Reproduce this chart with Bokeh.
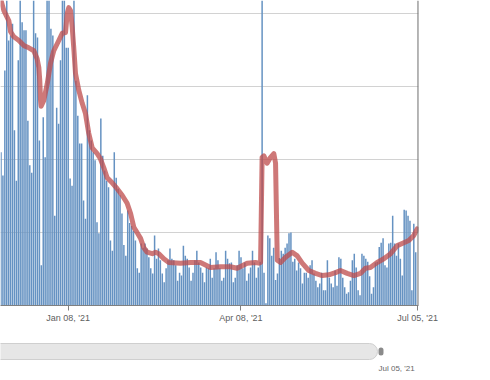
from bokeh.plotting import figure
from bokeh.models import FixedTicker, Grid, Span, Range1d
from bokeh.layouts import column
from bokeh.embed import file_html
from bokeh.resources import INLINE
from bokeh.core.properties import value

# daily bar values (one per day, first visible day = index 0)
bar_values = [
    21.0, 17.8, 32.2, 47, 36.3, 37.0, 38.6, 24.0, 17.1, 33.6,
    46, 38.8, 37.7, 37.7, 25.3, 19.2, 18.2, 44, 37.3, 36.7,
    22.6, 5.5, 25.8, 20.3, 48, 45, 37.9, 37.0, 12.3, 27.1,
    24.9, 33.6, 50, 46, 35.3, 35.3, 17.4, 16.4, 44, 30.8,
    26.0, 22.2, 22.2, 14.4,
    11.9, 28.8, 24.0, 22.6, 21.0, 19.9, 11.4, 9.9, 25.6, 20.5,
    18.5, 17.1, 16.2, 8.9, 7.5, 21.0, 17.5, 16.0, 15.1, 12.6,
    8.3, 6.8, 13.0, 11.3, 10.9, 10.2, 8.9, 5.1, 4.5, 8.5,
    7.9, 8.5, 7.8, 6.6, 5.1, 4.4, 9.6, 6.4, 7.8, 6.2,
    4.4, 3.2, 5.1, 6.2, 7.8, 6.4, 6.2, 5.5, 3.4, 4.5,
    4.1, 8.2, 6.8, 6.4, 5.2, 3.4, 4.5, 6.2, 7.5, 5.9,
    5.2, 4.5, 3.2, 5.2, 5.1, 6.4, 3.8, 5.1, 7.3, 6.2,
    5.1, 3.4, 3.8, 7.5, 6.4, 5.8, 5.9, 3.2, 3.8, 5.5,
    7.5, 6.6, 5.1, 5.9, 3.4, 4.4, 5.2, 7.5, 5.9, 3.8,
    5.2, 6.0, 106, 4.5, 0.3, 9.6, 9.2, 6.8, 7.9, 3.5,
    4.4, 6.5, 7.5, 7.1, 7.9, 8.5, 9.9, 10.0, 6.0, 6.4,
    4.8, 5.9, 5.1, 3.0, 4.5, 4.5, 3.8, 5.5, 6.2, 4.4,
    3.4, 2.5, 3.0,
    4.5, 2.1, 2.1, 6.2, 3.8, 3.0, 2.5, 4.8, 2.7, 6.6,
    6.4, 3.8, 2.5, 1.6, 1.8, 3.4, 6.2, 7.1, 5.2, 2.1,
    1.4, 7.1, 6.8, 6.4, 6.0, 4.0, 1.6, 2.5, 5.9, 6.0,
    8.0, 8.6, 9.2, 5.5, 5.2, 8.5, 8.6, 12.3, 8.5, 6.8,
    8.5, 6.4, 4.1, 13.1, 13.0, 12.3, 11.6, 2.1, 11.2, 7.3,
]
bar_days = list(range(len(bar_values)))

# moving-average line
line_days = [0, 1.5, 4.1, 5.0, 6.7, 9.3, 11.9, 14.5, 17.1, 18.8, 19.7, 20.2, 20.6, 20.9,
             22.3, 24.1, 25.8, 27.5, 30.1, 31.9, 33.6, 34.5, 35.3, 36.2, 37.1, 37.9, 38.8,
             40.5, 42.3, 44.0, 45.7, 47.5, 50.1, 51.8, 53.5, 55.3, 57.9, 60.5, 63.1, 65.7,
             67.5, 69.2, 71.1, 72.7, 74.4, 76.1, 78.8, 80.5, 82.2, 84.8, 87.4, 93.5, 98.7,
             103.9, 109.1, 114.3, 119.5, 123.0, 128.2, 132.5, 134.3, 135.2, 136.0, 136.9,
             138.6, 140.4, 142.1, 143.0, 143.9, 145.6, 148.2, 151.7, 154.3, 156.9, 160.3,
             163.8, 167.3, 170.7, 174.2, 176.8, 180.3, 183.8, 187.2, 189.8, 192.4, 195.9,
             199.4, 202.9, 206.4, 209.8, 212.4, 215.0, 216.8]
line_values = [41.8, 40.4, 39.0, 37.5, 36.8, 36.3, 35.6, 35.3, 34.9, 33.8, 32.6, 30.8, 28.1, 27.3,
               28.1, 30.4, 33.2, 34.9, 36.3, 37.3, 37.4, 40.0, 40.8, 40.4, 38.1, 35.3, 31.8,
               29.5, 27.7, 26.3, 23.6, 21.6, 20.8, 20.1, 18.9, 17.5, 16.8, 16.0, 15.1, 14.0,
               12.6, 10.7, 9.9, 9.2, 7.9, 7.3, 7.1, 7.3, 7.1, 6.4, 5.9, 5.8, 5.9,
               5.9, 5.2, 5.3, 5.3, 5.1, 5.8, 5.9, 5.8, 5.9, 20.3, 20.5,
               19.5, 20.3, 20.8, 19.5, 6.2, 5.9, 6.6, 7.3, 6.8, 5.8, 4.8,
               4.4, 4.1, 4.2, 4.5, 4.8, 4.4, 4.1, 4.4, 5.1, 5.2, 5.9,
               6.4, 7.1, 8.2, 8.6, 8.9, 9.6, 10.5]

tick_days = [35, 125, 217]
tick_labels = ["Jan 08, '21", "Apr 08, '21", "Jul 05, '21"]
grid_values = [10, 20, 30, 40]
nav_label = "Jul 05, '21"

X_START, X_END = -0.26, 217.45
Y_TOP = 41.78
RIGHT_BORDER = 72

p = figure(width=490, height=335, x_range=Range1d(X_START, X_END), y_range=Range1d(0, Y_TOP),
           output_backend="svg", toolbar_location=None, y_axis_location=None,
           min_border_left=0, min_border_right=RIGHT_BORDER, min_border_top=0, min_border_bottom=30)
p.outline_line_color = None
p.xgrid.visible = False
p.add_layout(Grid(dimension=1, ticker=FixedTicker(ticks=grid_values),
                  grid_line_color="#d2d2d2", grid_line_width=1))

p.vbar(x=bar_days, top=bar_values, bottom=0, width=0.78,
       fill_color="#6592c2", line_color=None)
p.line(line_days, line_values, line_color="#be4b4b", line_alpha=0.75, line_width=5,
       line_join="round", line_cap="round")
p.add_layout(Span(location=X_END - 0.15, dimension="height", line_color="#707070", line_width=1.5))

xa = p.xaxis[0]
xa.ticker = FixedTicker(ticks=tick_days)
xa.major_label_overrides = {d: l for d, l in zip(tick_days, tick_labels)}
xa.axis_line_color = "#808080"
xa.major_tick_line_color = "#808080"
xa.major_tick_out = 5
xa.major_tick_in = 0
xa.minor_tick_line_color = None
xa.major_label_standoff = 2
xa.major_label_text_font = "Liberation Sans"
xa.major_label_text_font_size = "9px"
xa.major_label_text_color = "#606060"

# navigator strip in screen-like units (0..418 across the same frame width)
nav = figure(width=490, height=45, x_range=Range1d(0, 490 - RIGHT_BORDER), y_range=Range1d(380, 335),
             output_backend="svg", toolbar_location=None, x_axis_location=None,
             y_axis_location=None, min_border_left=0, min_border_right=RIGHT_BORDER,
             min_border_top=0, min_border_bottom=0)
nav.outline_line_color = None
nav.xgrid.visible = False
nav.ygrid.visible = False
nav.quad(left=[-30], right=[377], top=[343], bottom=[359], fill_color="#e6e6e6",
         line_color="#cfcfcf", border_radius=8)
nav.quad(left=[378], right=[383], top=[347], bottom=[355], fill_color="#8a8a8a",
         line_color=None, border_radius=3)
nav.text(x=[378], y=[367.5], text=[nav_label], text_font=value("Liberation Sans"),
         text_font_size="8px", text_color="#666666", text_baseline="middle", text_align="left")

layout = column(p, nav)
open("out.html", "w").write(file_html(layout, INLINE))
